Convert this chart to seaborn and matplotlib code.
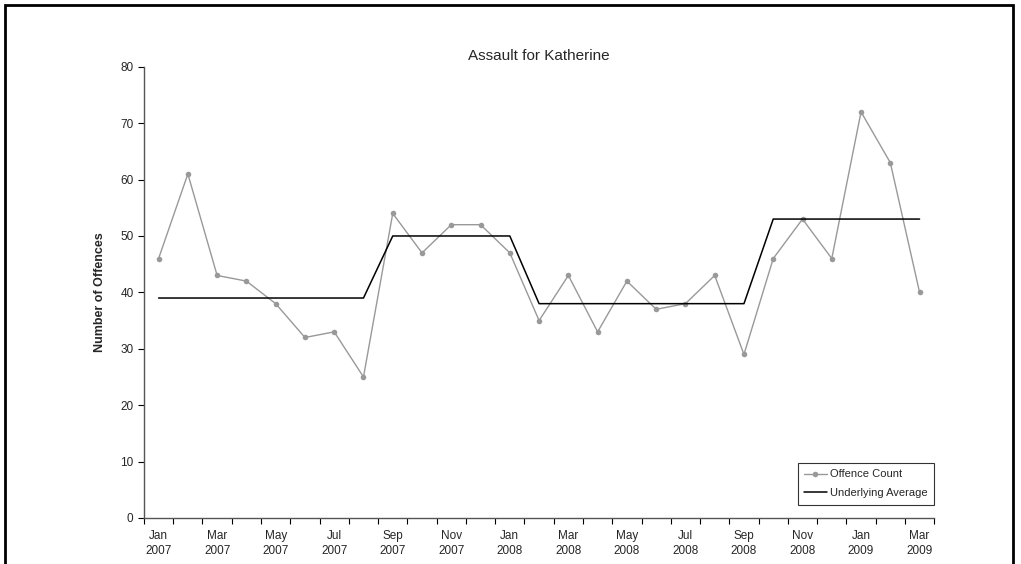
import matplotlib
matplotlib.use("Agg")
import matplotlib.pyplot as plt
import pandas as pd
import seaborn as sns
from matplotlib.patches import Rectangle

# monthly data Jan 2007 - Mar 2009
months = ["Jan 2007", "Feb 2007", "Mar 2007", "Apr 2007", "May 2007", "Jun 2007",
          "Jul 2007", "Aug 2007", "Sep 2007", "Oct 2007", "Nov 2007", "Dec 2007",
          "Jan 2008", "Feb 2008", "Mar 2008", "Apr 2008", "May 2008", "Jun 2008",
          "Jul 2008", "Aug 2008", "Sep 2008", "Oct 2008", "Nov 2008", "Dec 2008",
          "Jan 2009", "Feb 2009", "Mar 2009"]
offence_count = [46, 61, 43, 42, 38, 32, 33, 25, 54, 47, 52, 52, 47, 35, 43, 33,
                 42, 37, 38, 43, 29, 46, 53, 46, 72, 63, 40]
underlying_avg = [39, 39, 39, 39, 39, 39, 39, 39, 50, 50, 50, 50, 50, 38, 38, 38,
                  38, 38, 38, 38, 38, 53, 53, 53, 53, 53, 53]

df = pd.DataFrame({"idx": range(len(months)), "month": months,
                   "count": offence_count, "avg": underlying_avg})

sns.set_style("ticks")
plt.rcParams["font.family"] = ["Liberation Sans", "DejaVu Sans"]

fig = plt.figure(figsize=(10.21, 5.64), dpi=100)
ax = fig.add_axes([0.141, 0.0816, 0.774, 0.80])

sns.lineplot(data=df, x="idx", y="count", ax=ax, color="#999999", linewidth=1,
             marker="o", markersize=4, markeredgewidth=0, label="Offence Count")
sns.lineplot(data=df, x="idx", y="avg", ax=ax, color="black", linewidth=1.1,
             label="Underlying Average")

ax.set_xlim(-0.5, len(months) - 0.5)
ax.set_ylim(0, 80)
ax.set_yticks(range(0, 81, 10))

# tick marks between categories, labels on every second month
ax.set_xticks([i - 0.5 for i in range(len(months) + 1)])
ax.set_xticklabels([])
ax.set_xticks(range(0, len(months), 2), minor=True)
ax.set_xticklabels([m.replace(" ", "\n") for m in months[::2]], minor=True,
                   linespacing=1.25)
ax.tick_params(axis="both", which="major", length=4, width=0.8, direction="out",
               labelsize=8.5, color="black")
ax.tick_params(axis="x", which="minor", length=0, pad=9, labelsize=8.5)

for s in ["top", "right"]:
    ax.spines[s].set_visible(False)
for s in ["left", "bottom"]:
    ax.spines[s].set_color("#555555")
    ax.spines[s].set_linewidth(1)

ax.set_xlabel("")
ax.set_ylabel("Number of Offences", fontsize=9, fontweight="bold", labelpad=10)
ax.set_title("Assault for Katherine", fontsize=11, pad=5)

leg = ax.legend(loc="lower right", bbox_to_anchor=(1.0, 13 / 451), fontsize=8,
                frameon=True, fancybox=False, handlelength=2.0, borderpad=0.6,
                labelspacing=0.8, handletextpad=0.3, borderaxespad=0)
leg.get_frame().set_edgecolor("black")
leg.get_frame().set_linewidth(0.8)

# outer chart border (bottom edge cut off)
fig.patches.append(Rectangle((5 / 1021, -0.1), 1008 / 1021, 1.1 - 5 / 564,
                             transform=fig.transFigure, fill=False,
                             edgecolor="black", linewidth=2))

fig.savefig("out.png", dpi=100)
